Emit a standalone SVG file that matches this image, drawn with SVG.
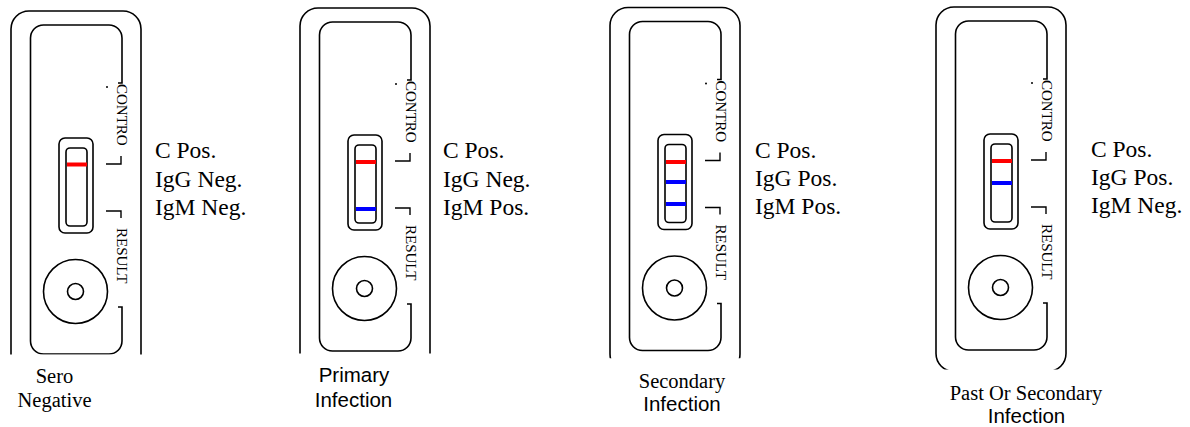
<svg xmlns="http://www.w3.org/2000/svg" xmlns:xlink="http://www.w3.org/1999/xlink" width="1190" height="427" viewBox="0 0 1190 427">
  <style>
    .edge { fill: none; stroke: #000; stroke-width: 1.6; }
    .mark { fill: none; stroke: #000; stroke-width: 1.4; }
    .band-c { stroke: #ff0000; stroke-width: 4; }
    .band-t { stroke: #0000ff; stroke-width: 4; }
    .tag { font-family: "Liberation Serif", "Times New Roman", serif; font-size: 15px; fill: #000; }
    .result { font-family: "Liberation Serif", "Times New Roman", serif; font-size: 23.5px; fill: #000; }
    .cap-serif { font-family: "Liberation Serif", "Times New Roman", serif; font-size: 20.5px; fill: #000; text-anchor: middle; }
    .cap-sans { font-family: "Liberation Sans", Arial, sans-serif; font-size: 20.5px; fill: #000; text-anchor: middle; }
  </style>
  <defs>
    <!-- cassette body in local coordinates; colour bands are added per cassette -->
    <g id="cassette">
      <rect class="edge" x="11" y="11" width="130" height="364.5" rx="18" ry="18"/>
      <path class="edge" d="M118,83 L122,83 L122,38 A13,13 0 0 0 109,25 L43.5,25 A13,13 0 0 0 30.5,38 L30.5,341 A13,13 0 0 0 43.5,354 L109,354 A13,13 0 0 0 122,341 L122,307 L118,307"/>
      <!-- reading window -->
      <rect class="edge" x="59" y="138" width="34" height="95" rx="6" ry="6"/>
      <rect class="edge" x="66" y="148" width="21" height="78" rx="4" ry="4"/>
      <!-- sample well -->
      <circle class="edge" cx="75.5" cy="291.5" r="32"/>
      <circle class="edge" cx="75.5" cy="291.5" r="8"/>
      <!-- zone markers -->
      <path class="mark" d="M106,164 L121,164 L121,156"/>
      <path class="mark" d="M106,211 L121,211 L121,218"/>
      <circle cx="107" cy="87" r="1" fill="#000"/>
      <text class="tag" transform="translate(117,84) rotate(90)">CONTRO</text>
      <text class="tag" transform="translate(117,228) rotate(90)">RESULT</text>
    </g>
    <clipPath id="cut1" clipPathUnits="userSpaceOnUse"><rect x="0" y="0" width="160" height="354.5"/></clipPath>
    <clipPath id="cut2" clipPathUnits="userSpaceOnUse"><rect x="0" y="0" width="160" height="356.5"/></clipPath>
    <clipPath id="cut3" clipPathUnits="userSpaceOnUse"><rect x="0" y="0" width="160" height="361.8"/></clipPath>
    <clipPath id="cut4" clipPathUnits="userSpaceOnUse"><rect x="0" y="0" width="160" height="373.5"/></clipPath>
  </defs>

  <g id="sero-negative">
    <g transform="translate(0,0)">
      <g clip-path="url(#cut1)">
        <use xlink:href="#cassette" href="#cassette"/>
        <line class="band-c" x1="67" y1="164.5" x2="87" y2="164.5"/>
      </g>
    </g>
    <text class="result" x="155" y="158">C Pos.</text>
    <text class="result" x="155" y="186.5">IgG Neg.</text>
    <text class="result" x="155" y="214.5">IgM Neg.</text>
    <text class="cap-serif" x="54.5" y="383">Sero</text>
    <text class="cap-serif" x="54.5" y="407">Negative</text>
  </g>

  <g id="primary-infection">
    <g transform="translate(289,-3)">
      <g clip-path="url(#cut2)">
        <use xlink:href="#cassette" href="#cassette"/>
        <line class="band-c" x1="67" y1="165" x2="87" y2="165"/>
        <line class="band-t" x1="67" y1="212" x2="87" y2="212"/>
      </g>
    </g>
    <text class="result" x="443" y="158">C Pos.</text>
    <text class="result" x="443" y="186.5">IgG Neg.</text>
    <text class="result" x="443" y="214.5">IgM Pos.</text>
    <text class="cap-sans" x="354" y="382">Primary</text>
    <text class="cap-sans" x="353.5" y="407">Infection</text>
  </g>

  <g id="secondary-infection">
    <g transform="translate(599,-3.5)">
      <g clip-path="url(#cut3)">
        <use xlink:href="#cassette" href="#cassette"/>
        <line class="band-c" x1="67" y1="165.5" x2="87" y2="165.5"/>
        <line class="band-t" x1="67" y1="185.5" x2="87" y2="185.5"/>
        <line class="band-t" x1="67" y1="207.5" x2="87" y2="207.5"/>
      </g>
    </g>
    <text class="result" x="755" y="158">C Pos.</text>
    <text class="result" x="755" y="185.5">IgG Pos.</text>
    <text class="result" x="755" y="213.5">IgM Pos.</text>
    <text class="cap-serif" x="682" y="388">Secondary</text>
    <text class="cap-sans" x="682" y="411">Infection</text>
  </g>

  <g id="past-or-secondary-infection">
    <g transform="translate(925,-4)">
      <g clip-path="url(#cut4)">
        <use xlink:href="#cassette" href="#cassette"/>
        <line class="band-c" x1="67" y1="165" x2="87" y2="165"/>
        <line class="band-t" x1="67" y1="187" x2="87" y2="187"/>
      </g>
    </g>
    <text class="result" x="1091" y="157">C Pos.</text>
    <text class="result" x="1091" y="185">IgG Pos.</text>
    <text class="result" x="1091" y="213">IgM Neg.</text>
    <text class="cap-serif" x="1026" y="400">Past Or Secondary</text>
    <text class="cap-sans" x="1026.5" y="423">Infection</text>
  </g>

  <g id="connectors"/>
</svg>
